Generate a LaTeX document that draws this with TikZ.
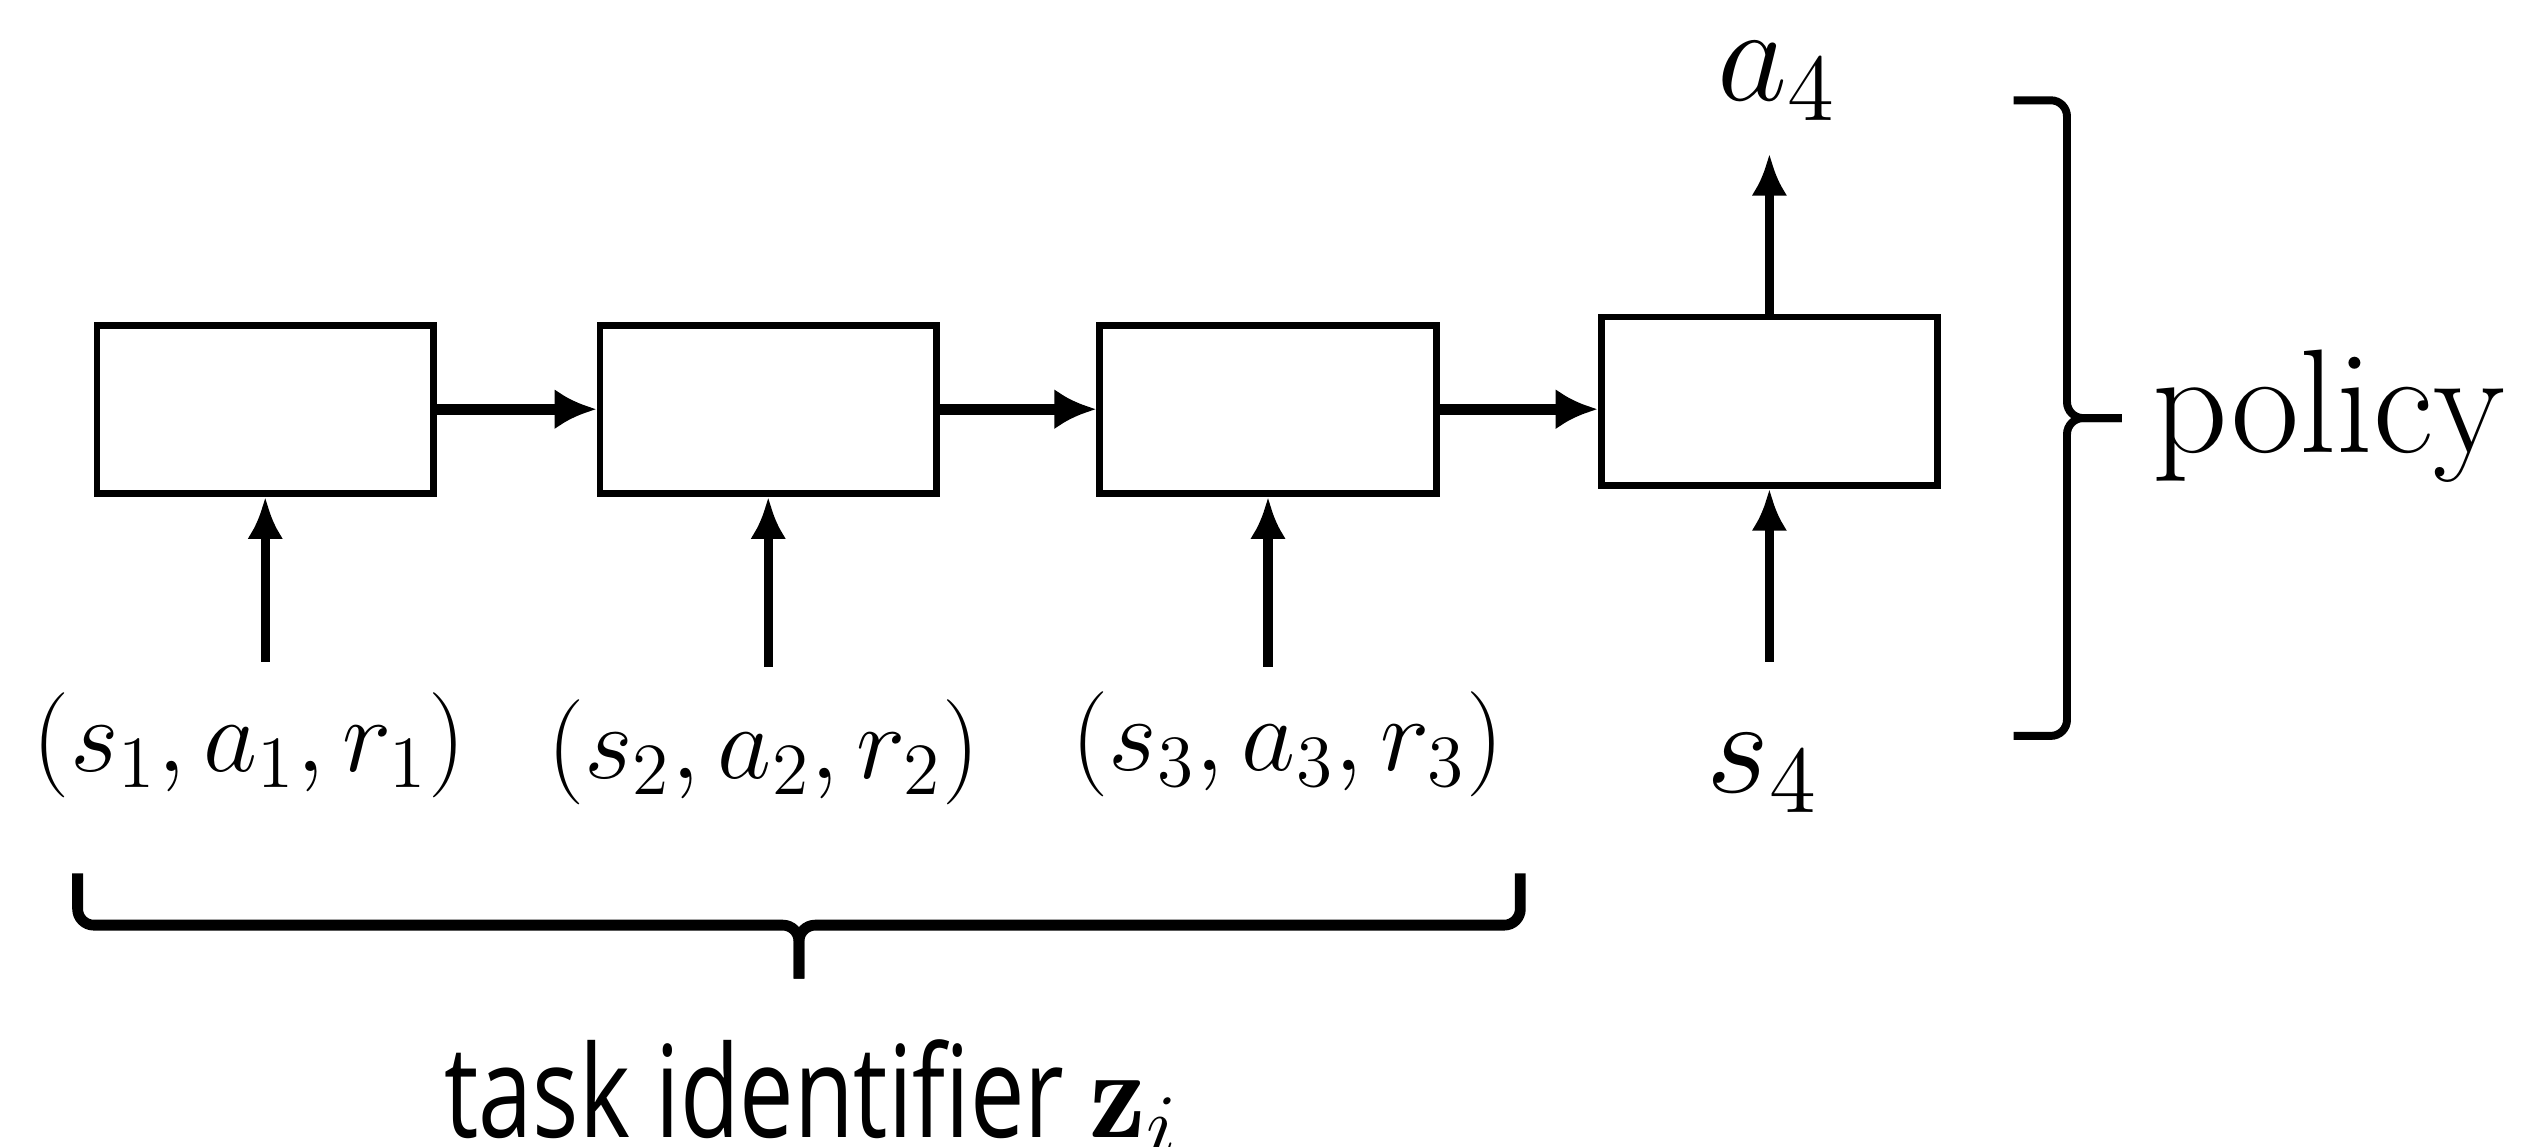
\documentclass[tikz,border=0pt]{standalone}
\usepackage{fix-cm}
\usepackage{amsmath,amssymb}
\usepackage{fontspec}
\newfontfamily\taskfont[FakeStretch=0.76]{Open Sans}
\usetikzlibrary{arrows.meta,positioning,calc}

\begin{document}
\begin{tikzpicture}[
  cell/.style={draw, line width=1.2pt, minimum width=2.08cm, minimum height=1.04cm, inner sep=0pt},
  tuple/.style={font=\fontsize{18.5}{21}\selectfont},
  big/.style={font=\fontsize{24}{27}\selectfont, inner sep=0pt},
  rarrow/.style={-{Latex[length=0.26cm,width=0.25cm]}, line width=2pt},
  uarrow/.style={-{Latex[length=0.26cm,width=0.22cm]}, line width=1.6pt},
  rbrace/.style={line width=1.4pt, rounded corners=0.1cm},
  bbrace/.style={line width=1.9pt, rounded corners=0.1cm}
]
\useasboundingbox (0,0) rectangle (15.68,7.09);

% recurrent cells
\node[cell] (cell1) at (1.64,4.56) {};
\node[cell] (cell2) at (4.75,4.56) {};
\node[cell] (cell3) at (7.84,4.56) {};
\node[cell] (cell4) at (10.94,4.61) {};

\draw[rarrow] (cell1) -- (cell2);
\draw[rarrow] (cell2) -- (cell3);
\draw[rarrow] (cell3.east) -- (cell3.east -| cell4.west);

% inputs
\node[tuple] (in1) at (1.54,2.48) {$(s_1,a_1,r_1)$};
\node[tuple] (in2) at (4.72,2.44) {$(s_2,a_2,r_2)$};
\node[tuple] (in3) at (7.96,2.49) {$(s_3,a_3,r_3)$};
\node[big, anchor=base] (s4) at (10.90,2.19) {$s_4$};

\coordinate (tail1) at ($(cell1.south)+(0,-1.02)$);
\coordinate (tail2) at ($(cell2.south)+(0,-1.05)$);
\coordinate (tail3) at ($(cell3.south)+(0,-1.05)$);
\coordinate (tail4) at ($(cell4.south)+(0,-1.07)$);
\draw[uarrow] (tail1) -- (cell1.south);
\draw[uarrow] (tail2) -- (cell2.south);
\draw[uarrow] (tail3) -- (cell3.south);
\draw[uarrow] (tail4) -- (cell4.south);

% output
\node[big, anchor=base] (a4) at (10.99,6.47) {$a_4$};
\coordinate (head4) at ($(cell4.north)+(0,0.99)$);
\draw[uarrow] (cell4.north) -- (head4);

% policy brace
\coordinate (pbtop) at (12.45,6.47);
\coordinate (pbbot) at (12.45,2.54);
\coordinate (pbmid) at ($(pbtop)!0.5!(pbbot)$);
\draw[rbrace] (pbtop) -- ++(0.33,0) |- ($(pbmid)+(0.67,0)$);
\draw[rbrace] (pbbot) -- ++(0.33,0) |- ($(pbmid)+(0.67,0)$);
\node[font=\fontsize{26}{30}\selectfont, anchor=base west, inner sep=0pt] (policy) at (13.30,4.29) {policy};

% task identifier brace
\coordinate (tbl) at (0.48,1.69);
\coordinate (tbr) at (9.40,1.69);
\coordinate (tbmid) at ($(tbl)!0.5!(tbr)$);
\draw[bbrace] (tbl) -- ++(0,-0.32) -| ($(tbmid)+(0,-0.65)$);
\draw[bbrace] (tbr) -- ++(0,-0.32) -| ($(tbmid)+(0,-0.65)$);
\node[font=\taskfont\fontsize{22.5}{25}\selectfont, anchor=base, inner sep=0pt] (task) at (5.02,0.06) {task identifier $\mathbf{z}_i$};
\end{tikzpicture}
\end{document}
